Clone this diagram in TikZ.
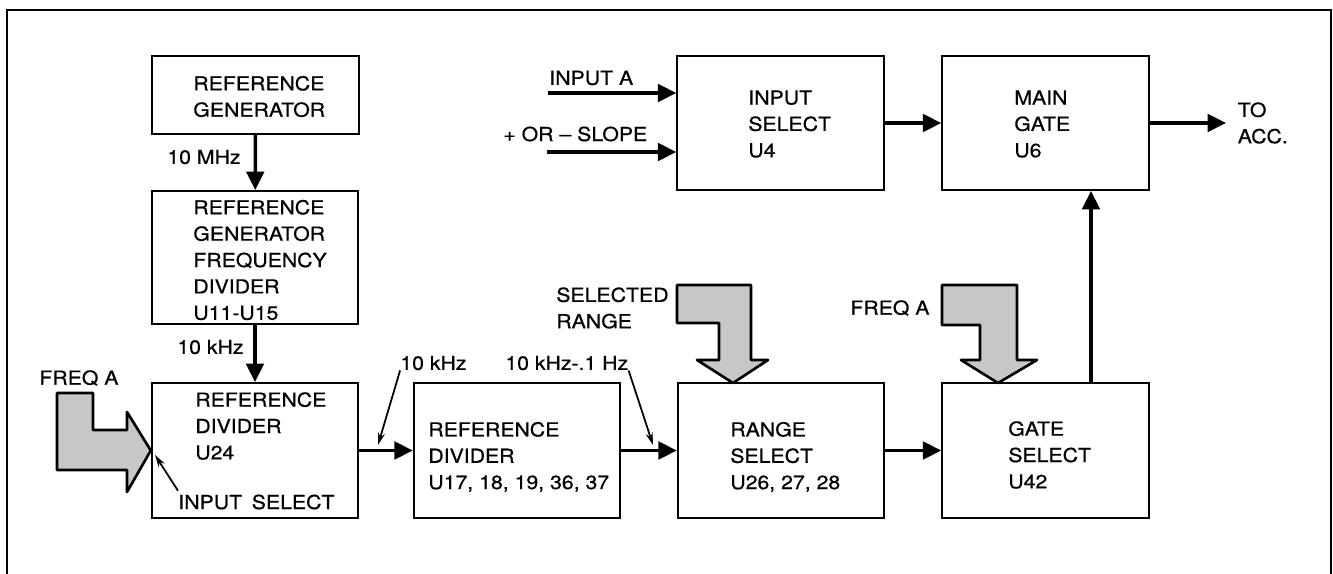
\documentclass[tikz,border=0pt]{standalone}
\usepackage{fontspec}
\setmainfont{TeX Gyre Heros}[FakeStretch=1.1, FakeBold=0.6]
\usetikzlibrary{positioning, arrows.meta}
\tikzset{
  blk/.style={
    draw,
    line width=1.1pt,
    minimum width=4.13cm,
    inner sep=0pt
  },
  txt/.style={
    anchor=west,
    align=left,
    inner sep=0pt,
    font=\fontsize{11}{15}\selectfont
  },
  conn/.style={
    draw,
    line width=2pt,
    -{Triangle[length=10.5pt,width=10pt]}
  },
  ptr/.style={
    draw,
    line width=1pt,
    -{Stealth[length=7pt,width=4pt]}
  },
  bigarrow/.style={
    draw,
    line width=1.5pt,
    line join=round,
    fill=black!22
  },
  frame/.style={
    draw,
    line width=1.2pt
  }
}
\begin{document}
\begin{tikzpicture}[x=0.02cm, y=-0.02cm]
          \useasboundingbox (0,0) rectangle (1333,574);
          \draw[frame] (7,574) -- (7,10) -- (1331,10) -- (1331,574);

          % blocks
          \node[blk, minimum height=1.56cm] (rg) at (255.5,95) {};
          \node[blk, minimum height=2.66cm] (rgfd) at (255,257.5) {};
          \node[blk, minimum height=2.7cm] (rd24) at (255,450.5) {};
          \node[blk, minimum height=2.7cm] (rd17) at (517,450.5) {};
          \node[blk, minimum height=2.7cm] (rs) at (781,450.5) {};
          \node[blk, minimum height=2.7cm] (gs) at (1045.5,450.5) {};
          \node[blk, minimum height=2.68cm] (is) at (780.5,123) {};
          \node[blk, minimum height=2.68cm] (mg) at (1045.5,123) {};

          % texts in the blocks
          \node[txt] (rg-t) at (193,96.5) {REFERENCE\\GENERATOR};
          \node[txt] (rgfd-t) at (193,260) {REFERENCE\\GENERATOR\\FREQUENCY\\DIVIDER\\U11-U15};
          \node[txt] (rd24-t) at (195,426) {REFERENCE\\DIVIDER\\U24};
          \node[txt] (rd17-t) at (428,457) {REFERENCE\\DIVIDER\\U17, 18, 19, 36, 37};
          \node[txt] (rs-t) at (730,457) {RANGE\\SELECT\\U26, 27, 28};
          \node[txt] (gs-t) at (1008,455) {GATE\\SELECT\\U42};
          \node[txt] (is-t) at (748,124) {INPUT\\SELECT\\U4};
          \node[txt] (mg-t) at (1014,124) {MAIN\\GATE\\U6};

          % labels
          \node[txt] (mhz) at (167,157) {10 MHz};
          \node[txt] (khz-a) at (177,347) {10 kHz};
          \node[txt] (khz-b) at (400,363) {10 kHz};
          \node[txt] (khz-c) at (505,363) {10 kHz-.1 Hz};
          \node[txt] (frqa-l) at (39,378) {FREQ A};
          \node[txt] (frqa-r) at (850,308) {FREQ A};
          \node[txt] (selrng) at (556,308) {SELECTED\\RANGE};
          \node[txt] (insel) at (178,502) {INPUT\enspace SELECT};
          \node[txt] (ina-t) at (549,78) {INPUT A};
          \node[txt] (slp-t) at (503,134) {+ OR -- SLOPE};
          \node[txt, inner xsep=6.5pt] (acc) at (1226,123) {TO\\ACC.};

          \coordinate (ina) at (548,93);
          \coordinate (slp) at (547,152);
          \coordinate (khz-b-tip) at (378,445);
          \coordinate (khz-c-tip) at (653,445);
          \coordinate (insel-tip) at (155,455);

          % signal flow
          \path[conn] (rg) -- (rgfd);
          \path[conn] (rgfd) -- (rd24);
          \path[conn] (rd24) -- (rd17);
          \path[conn] (rd17) -- (rs);
          \path[conn] (rs) -- (gs);
          \path[conn] ([xshift=0.91cm]gs.north) -- ([xshift=0.91cm]mg.south);
          \path[conn] (is) -- (mg);
          \path[conn] (mg.east) -- (acc.west);
          \path[conn] (ina) -- (ina -| is.west);
          \path[conn] (slp) -- (slp -| is.west);

          % pointers
          \path[ptr] ([shift={(0.1,-0.12)}]khz-b.south west) -- (khz-b-tip);
          \path[ptr] ([shift={(0.04,-0.12)}]khz-c.south east) -- (khz-c-tip);
          \path[ptr] ([yshift=2pt]insel.north west) -- (insel-tip);

          % wide arrows
          \draw[bigarrow] (57,393) -- (93,393) -- (93,430) -- (127,430) -- (127,412)
            -- (rd24.west) -- (127,492) -- (127,470) -- (57,470) -- cycle;
          \draw[bigarrow] (677,285) -- (751,285) -- (751,360) -- (768,360)
            -- (733,383) -- (697,360) -- (719,360) -- (719,323) -- (677,323) -- cycle;
          \draw[bigarrow] (942,285) -- (1017,285) -- (1017,360) -- (1037,360)
            -- (998,383) -- (961,360) -- (980,360) -- (980,325) -- (942,325) -- cycle;
        \end{tikzpicture}
\end{document}
